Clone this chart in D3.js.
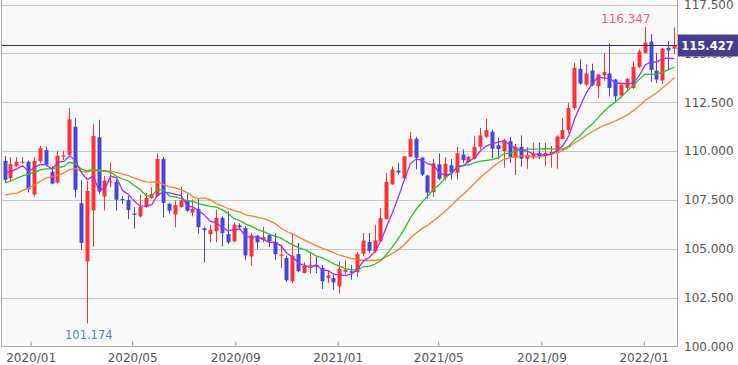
<!DOCTYPE html>
<html><head><meta charset="utf-8">
<script src="https://cdn.jsdelivr.net/npm/d3@7"></script>
<style>html,body{margin:0;padding:0;background:#fff}svg{display:block}</style>
</head><body><svg id="c" width="738" height="365"></svg>
<script>
const weeks = ["2019-12-01","2019-12-08","2019-12-15","2019-12-22","2019-12-29",
"2020-01-05","2020-01-12","2020-01-19","2020-01-26","2020-02-02","2020-02-09","2020-02-16","2020-02-23",
"2020-03-01","2020-03-08","2020-03-15","2020-03-22","2020-03-29","2020-04-05","2020-04-12","2020-04-19","2020-04-26",
"2020-05-03","2020-05-10","2020-05-17","2020-05-24","2020-05-31","2020-06-07","2020-06-14","2020-06-21","2020-06-28",
"2020-07-05","2020-07-12","2020-07-19","2020-07-26","2020-08-02","2020-08-09","2020-08-16","2020-08-23","2020-08-30",
"2020-09-06","2020-09-13","2020-09-20","2020-09-27","2020-10-04","2020-10-11","2020-10-18","2020-10-25",
"2020-11-01","2020-11-08","2020-11-15","2020-11-22","2020-11-29","2020-12-06","2020-12-13","2020-12-20","2020-12-27",
"2021-01-03","2021-01-10","2021-01-17","2021-01-24","2021-01-31","2021-02-07","2021-02-14","2021-02-21","2021-02-28",
"2021-03-07","2021-03-14","2021-03-21","2021-03-28","2021-04-04","2021-04-11","2021-04-18","2021-04-25",
"2021-05-02","2021-05-09","2021-05-16","2021-05-23","2021-05-30","2021-06-06","2021-06-13","2021-06-20","2021-06-27",
"2021-07-04","2021-07-11","2021-07-18","2021-07-25","2021-08-01","2021-08-08","2021-08-15","2021-08-22","2021-08-29",
"2021-09-05","2021-09-12","2021-09-19","2021-09-26","2021-10-03","2021-10-10","2021-10-17","2021-10-24","2021-10-31",
"2021-11-07","2021-11-14","2021-11-21","2021-11-28","2021-12-05","2021-12-12","2021-12-19","2021-12-26",
"2022-01-02","2022-01-09","2022-01-16","2022-01-23","2022-01-30","2022-02-06"];

const open = [109.50,108.61,109.22,109.42,109.45,107.78,109.48,110.05,108.94,108.39,
109.72,109.81,111.24,107.33,104.35,106.97,110.71,107.68,108.40,108.43,
107.55,107.50,106.80,106.66,107.14,107.60,107.70,109.60,107.30,106.76,
107.14,107.48,106.85,107.04,106.05,105.75,105.89,106.58,105.75,105.38,
106.20,106.06,104.61,105.67,105.46,105.70,105.35,104.65,104.53,103.34,
104.73,103.76,104.12,104.15,104.02,103.50,103.50,103.08,103.82,103.85,
103.80,104.75,105.35,104.87,105.38,106.52,108.30,109.00,108.60,109.71,
110.63,109.66,108.75,107.90,109.32,108.64,109.27,108.89,109.83,109.44,
109.61,110.22,110.73,110.99,110.30,110.00,110.51,109.66,110.22,109.61,
109.66,109.91,109.80,109.83,109.91,110.62,111.08,112.20,114.21,113.40,
114.12,113.32,113.88,113.97,113.66,112.84,113.23,113.23,114.31,115.03,
115.60,114.12,113.61,115.29,115.24];

const high = [109.76,109.69,109.69,109.69,109.52,109.69,110.27,110.23,109.21,110.01,
110.01,112.21,111.70,108.52,108.47,111.40,111.60,108.73,109.42,108.55,
107.70,107.70,107.13,107.76,107.86,108.15,109.88,109.71,107.35,107.47,
108.17,107.86,107.52,107.57,106.10,106.23,107.00,106.66,106.92,106.35,
106.30,106.15,105.80,105.72,106.12,105.75,105.78,105.21,104.65,105.76,
105.30,104.30,104.79,104.60,104.16,103.88,103.68,104.36,104.40,104.16,
104.82,105.81,105.81,106.23,107.09,108.88,109.22,109.40,109.75,110.97,
110.73,109.70,108.79,109.60,109.88,109.69,109.60,110.22,110.09,109.75,
110.77,111.19,111.65,111.10,110.68,110.63,110.73,110.37,110.80,110.20,
110.43,110.43,110.43,110.26,110.80,111.70,112.46,114.52,114.69,114.43,
114.47,113.95,115.03,115.52,113.70,113.44,113.75,114.60,115.20,116.347,
115.98,115.03,115.29,115.64,116.33];

const low = [108.41,108.44,109.20,109.35,107.88,107.68,109.40,109.21,108.30,108.34,
109.55,109.75,107.63,104.95,101.174,105.10,107.80,106.96,108.15,106.96,
107.30,106.52,106.04,106.60,107.10,107.55,107.65,106.61,106.80,106.10,
107.10,106.90,106.66,105.77,104.30,105.33,105.33,105.12,105.24,105.33,
106.05,104.44,104.14,104.98,105.33,105.09,104.44,104.02,103.30,103.25,
103.80,103.73,103.73,103.76,102.95,103.25,102.90,102.71,103.70,103.42,
103.56,104.62,104.79,104.80,105.33,106.50,108.28,108.80,108.57,109.70,
109.06,108.72,107.56,107.66,108.52,108.50,108.55,108.55,109.40,109.37,
109.57,110.09,110.67,109.62,109.57,109.15,109.40,108.77,109.20,109.10,
109.60,109.58,109.23,109.15,109.10,110.60,110.90,112.10,113.40,113.32,
113.32,112.70,113.60,112.80,112.54,112.72,113.14,113.18,114.26,114.98,
113.54,113.48,113.44,114.18,114.98];

const close = [108.53,109.33,109.45,109.46,108.05,109.50,110.15,109.30,108.34,109.76,
109.78,111.62,108.02,105.30,107.96,110.77,107.93,108.48,108.46,107.51,
107.50,106.98,106.76,107.14,107.60,107.81,109.60,107.35,106.95,107.24,
107.48,106.95,107.04,106.11,105.95,105.96,106.58,105.80,105.33,106.23,
106.10,104.66,105.69,105.33,105.60,105.38,104.72,104.70,103.39,104.65,
103.85,104.14,104.18,104.08,103.34,103.64,103.28,103.97,103.93,103.78,
104.73,105.42,104.90,105.43,106.57,108.42,109.05,108.90,109.73,110.63,
109.66,108.80,107.87,109.37,108.58,109.35,108.93,109.88,109.54,109.71,
110.22,110.80,111.07,110.12,110.10,110.55,109.70,110.22,109.61,109.80,
109.85,109.72,109.90,109.95,110.74,111.08,112.20,114.26,113.45,113.97,
113.37,113.92,114.04,113.23,112.80,113.40,113.69,114.31,115.09,115.55,
114.15,113.66,115.24,115.15,115.427];

const maShort = [108.94,108.95,109.09,109.25,108.96,109.16,109.32,109.29,109.07,109.41,
109.47,109.76,109.50,108.90,108.54,108.73,108.00,108.09,108.72,108.63,
107.98,107.79,107.44,107.18,107.20,107.26,107.78,107.90,107.86,107.79,
107.72,107.19,107.13,106.96,106.71,106.40,106.33,106.08,105.92,105.98,
106.01,105.62,105.60,105.60,105.48,105.33,105.34,105.15,104.76,104.57,
104.26,104.15,104.04,104.18,103.92,103.88,103.70,103.66,103.63,103.72,
103.94,104.37,104.55,104.85,105.41,106.15,106.87,107.67,108.53,109.35,
109.59,109.54,109.34,109.27,108.86,108.79,108.82,109.22,109.26,109.48,
109.66,110.03,110.27,110.38,110.46,110.53,110.31,110.14,110.04,109.98,
109.84,109.84,109.78,109.84,110.03,110.28,110.77,111.65,112.35,112.99,
113.45,113.79,113.75,113.71,113.47,113.48,113.43,113.49,113.86,114.41,
114.56,114.55,114.74,114.75,114.73];

const maMid = [108.37,108.47,108.61,108.73,108.82,108.91,109.04,109.09,109.10,109.14,
109.22,109.44,109.33,109.08,108.98,109.08,108.96,108.99,108.91,108.71,
108.57,108.47,108.24,108.03,107.72,107.71,108.04,107.99,107.70,107.65,
107.57,107.45,107.42,107.31,107.23,107.17,107.13,106.99,106.80,106.54,
106.44,106.26,106.15,105.98,105.88,105.75,105.64,105.55,105.35,105.20,
105.05,104.96,104.80,104.64,104.54,104.39,104.23,104.10,103.99,103.92,
103.92,104.08,104.10,104.22,104.40,104.73,105.11,105.54,106.01,106.57,
107.01,107.39,107.70,108.06,108.30,108.64,108.91,109.17,109.25,109.30,
109.41,109.49,109.52,109.56,109.66,109.86,109.89,110.02,110.04,110.10,
110.10,110.11,110.13,110.11,110.10,110.10,110.26,110.58,110.81,111.14,
111.38,111.71,112.04,112.30,112.53,112.80,113.09,113.36,113.67,113.93,
113.92,113.94,114.04,114.17,114.29];

const maLong = [107.74,107.82,107.85,107.99,108.10,108.25,108.47,108.62,108.69,108.77,
108.87,109.05,109.10,108.96,108.93,109.03,109.02,108.98,108.97,108.91,
108.82,108.75,108.62,108.51,108.42,108.41,108.42,108.28,108.17,108.12,
108.01,107.88,107.66,107.57,107.60,107.50,107.30,107.20,107.05,106.95,
106.88,106.74,106.68,106.61,106.54,106.44,106.29,106.05,105.87,105.76,
105.60,105.44,105.30,105.16,105.03,104.92,104.79,104.67,104.58,104.51,
104.44,104.40,104.41,104.40,104.46,104.60,104.77,104.97,105.21,105.55,
105.79,106.03,106.21,106.45,106.67,106.95,107.21,107.52,107.78,108.06,
108.37,108.66,108.92,109.17,109.40,109.59,109.65,109.70,109.74,109.74,
109.70,109.70,109.76,109.86,109.92,110.04,110.18,110.43,110.60,110.81,
110.99,111.16,111.32,111.42,111.55,111.70,111.85,112.07,112.30,112.59,
112.79,112.98,113.24,113.49,113.75];

const yTickValues = [100, 102.5, 105, 107.5, 110, 112.5, 115, 117.5];
const xTickDates = ["2020-01-01","2020-05-01","2020-09-01","2021-01-01","2021-05-01","2021-09-01","2022-01-01"];
const lastPrice = 115.427;

// ---------- drawing ----------
const svg = d3.select("#c");
const P = {l: 1.5, r: 677, t: 0, b: 346.5};
const FONT = "'DejaVu Sans', Verdana, sans-serif";
const parse = d3.utcParse("%Y-%m-%d");
const dates = weeks.map(parse);
const candles = dates.map((d, i) => ({d, o: open[i], h: high[i], l: low[i], c: close[i]}));

const x = d3.scaleUtc().domain([parse("2020-01-01"), parse("2022-01-01")]).range([30.6, 643.8]);
const y = d3.scaleLinear().domain([100, 117.5]).range([346.5, 4.5]);

svg.append("rect").attr("width", 738).attr("height", 365).attr("fill", "#fff");
svg.append("rect").attr("x", P.l).attr("y", P.t).attr("width", P.r - P.l).attr("height", P.b - P.t).attr("fill", "#f9f9f9");

svg.append("defs").append("clipPath").attr("id", "clip")
  .append("rect").attr("x", P.l).attr("y", P.t).attr("width", P.r - P.l).attr("height", P.b - P.t);

// grid
svg.append("g").selectAll("line").data(yTickValues.filter(v => v > 100)).join("line")
  .attr("x1", P.l).attr("x2", P.r)
  .attr("y1", d => Math.round(y(d)) + 0.5).attr("y2", d => Math.round(y(d)) + 0.5)
  .attr("stroke", "#c8c8c8").attr("stroke-width", 1);

// x axis (ticks inward)
const xAxis = d3.axisBottom(x).tickValues(xTickDates.map(parse))
  .tickFormat(d3.utcFormat("%Y/%m")).tickSizeInner(-5).tickSizeOuter(0).tickPadding(7);
const gx = svg.append("g").attr("transform", `translate(0,${P.b})`).call(xAxis);
gx.select(".domain").remove();
gx.selectAll(".tick line").attr("stroke", "#999");
gx.selectAll("text").attr("font-family", FONT).attr("font-size", 12).attr("fill", "#555");

// y axis labels on the right
const yAxis = d3.axisRight(y).tickValues(yTickValues).tickFormat(d3.format(".3f"))
  .tickSizeInner(0).tickSizeOuter(0).tickPadding(7);
const gy = svg.append("g").attr("transform", `translate(${P.r},0)`).call(yAxis);
gy.select(".domain").remove();
gy.selectAll("text").attr("font-family", FONT).attr("font-size", 12).attr("fill", "#555");

// borders
const border = svg.append("g").attr("stroke", "#aaa").attr("stroke-width", 1).attr("fill", "none");
border.append("line").attr("x1", P.l).attr("x2", P.l).attr("y1", P.t).attr("y2", P.b);
border.append("line").attr("x1", P.r + 0.5).attr("x2", P.r + 0.5).attr("y1", P.t).attr("y2", P.b);
border.append("line").attr("x1", P.l).attr("x2", P.r + 0.5).attr("y1", P.b).attr("y2", P.b);

// candles
const RED = "#ff3232", BLUE = "#4646dc";
const gc = svg.append("g").attr("clip-path", "url(#clip)");
const cg = gc.selectAll("g").data(candles).join("g");
cg.append("line")
  .attr("x1", d => Math.round(x(d.d)) + 0.5).attr("x2", d => Math.round(x(d.d)) + 0.5)
  .attr("y1", d => y(d.h)).attr("y2", d => y(d.l))
  .attr("stroke", d => d.c >= d.o ? RED : BLUE).attr("stroke-width", 1);
cg.append("rect")
  .attr("x", d => Math.round(x(d.d)) - 1.5).attr("width", 4)
  .attr("y", d => y(Math.max(d.o, d.c)))
  .attr("height", d => Math.max(1.2, y(Math.min(d.o, d.c)) - y(Math.max(d.o, d.c))))
  .attr("fill", d => d.c >= d.o ? RED : BLUE);

// moving averages
const line = arr => d3.line().x((v, i) => x(dates[i]) + 0.5).y(v => y(v))(arr);
[[maLong, "#ff7f27"], [maMid, "#1ec81e"], [maShort, "#a52aff"]].forEach(([arr, col]) => {
  gc.append("path").attr("d", line(arr)).attr("fill", "none").attr("stroke", col).attr("stroke-width", 1.3);
});

// last price line and box
const yp = Math.round(y(lastPrice)) + 0.5;
svg.append("line").attr("x1", P.l).attr("x2", P.r).attr("y1", yp).attr("y2", yp)
  .attr("stroke", "#33335a").attr("stroke-width", 1);
svg.append("rect").attr("x", 678).attr("y", yp - 11).attr("width", 60).attr("height", 22).attr("fill", "#473c8b");
svg.append("text").attr("x", 707.5).attr("y", yp).attr("dy", "0.36em").attr("text-anchor", "middle")
  .attr("font-family", FONT).attr("font-size", 11.5).attr("font-weight", "bold").attr("fill", "#fff")
  .text(d3.format(".3f")(lastPrice));

// high / low labels
const iMax = d3.maxIndex(high), iMin = d3.minIndex(low);
svg.append("text").attr("x", x(dates[iMax]) + 6).attr("y", y(high[iMax]) - 4).attr("text-anchor", "end")
  .attr("font-family", FONT).attr("font-size", 12).attr("fill", "#ff5a73").text(d3.format(".3f")(high[iMax]));
svg.append("text").attr("x", x(dates[iMin]) + 2).attr("y", y(low[iMin]) + 15.5).attr("text-anchor", "middle")
  .attr("font-family", FONT).attr("font-size", 11.5).attr("fill", "#4a7fd6").text(d3.format(".3f")(low[iMin]));
</script>
</body></html>
